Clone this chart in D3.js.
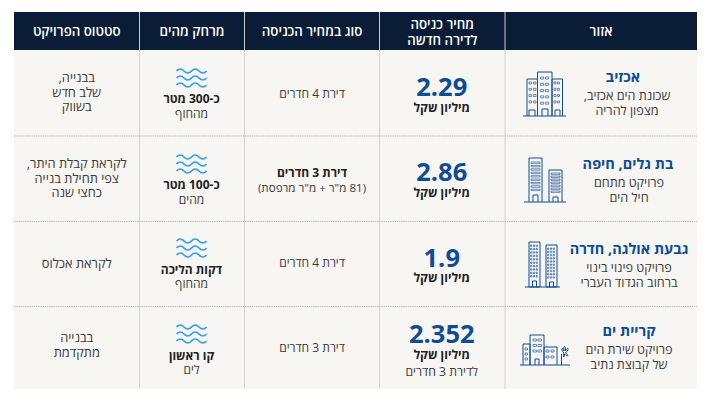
<!DOCTYPE html>
<html lang="he"><head><meta charset="utf-8">
<script src="https://cdn.jsdelivr.net/npm/d3@7"></script>
<style>html,body{margin:0;padding:0;background:#fff}svg{display:block}text{font-family:"Open Sans",sans-serif;direction:rtl;text-anchor:middle}</style>
</head><body><svg id="c" width="711" height="400"></svg>
<script>
const headers = [["אזור"],["מחיר כניסה","לדירה חדשה"],["סוג במחיר הכניסה"],["מרחק מהים"],["סטטוס הפרויקט"]];
const regions = ["אכזיב","בת גלים, חיפה","גבעת אולגה, חדרה","קריית ים"];
const regionNotes = [["שכונת הים אכזיב,","מצפון להריה"],["פרויקט מתחם","חיל הים"],["פרויקט פינוי בינוי","ברחוב הגדוד העברי"],["פרויקט שירת הים","של קבוצת נתיב"]];
const prices = ["2.29","2.86","1.9","2.352"];
const priceUnit = "מיליון שקל";
const priceNotes = ["","","","לדירת 3 חדרים"];
const aptTypes = [["דירת 4 חדרים",""],["דירת 3 חדרים","(81 מ\"ר +  מ\"ר מרפסת)"],["דירת 4 חדרים",""],["דירת 3 חדרים",""]];
const seaBold = ["כ-300 מטר","כ-100 מטר","דקות הליכה","קו ראשון"];
const seaNote = ["מהחוף","מהים","מהחוף","לים"];
const statuses = [["בבנייה,","שלב חדש","בשווק"],["לקראת קבלת היתר,","צפי תחילת בנייה","כחצי שנה"],["לקראת אכלוס"],["בבנייה","מתקדמת"]];
const rowEdges=[50,136,221.5,306.5,389], colEdges=[14,139.5,244.5,379.5,505,697];
const NAVY="#0a1c36",BLUE="#0f4c96",INK="#3a3a3a",BOLD="#222",BG="#f7f6f3",WAVE="#2f9ff0";
const svg=d3.select("#c");
const X=d3.scaleOrdinal().domain(d3.range(6)).range(colEdges);
const Y=d3.scaleOrdinal().domain(d3.range(5)).range(rowEdges);
const colMid=i=>(X(i)+X(i+1))/2;
svg.append("rect").attr("x",X(0)).attr("y",Y(0)).attr("width",X(5)-X(0)).attr("height",Y(4)-Y(0)).attr("fill",BG);
svg.append("rect").attr("x",X(0)).attr("y",12).attr("width",X(5)-X(0)).attr("height",Y(0)-12).attr("fill",NAVY);
d3.range(1,5).forEach(i=>{
 svg.append("line").attr("x1",X(i)).attr("x2",X(i)).attr("y1",12).attr("y2",Y(0)).attr("stroke","#c6ccd4").attr("stroke-width",1);
 svg.append("line").attr("x1",X(i)).attr("x2",X(i)).attr("y1",Y(0)).attr("y2",Y(4)).attr("stroke","#d3d3d0").attr("stroke-width",1);
});
d3.range(1,4).forEach(i=>svg.append("line").attr("x1",X(0)).attr("x2",X(5)).attr("y1",Y(i)).attr("y2",Y(i)).attr("stroke","#bdbdba").attr("stroke-width",1).attr("stroke-dasharray","1.5 0.7"));
function T(x,y,s,size,weight,fill){return svg.append("text").attr("x",x).attr("y",y).attr("font-size",size).attr("font-weight",weight).attr("fill",fill).text(s)}
const headCol=[4,3,2,1,0];
headers.forEach((h,i)=>{const c=headCol[i],x=colMid(c);
 if(h.length==1)T(x,36,h[0],13.3,600,"#fff"); else{T(x,29,h[0],13.3,600,"#fff");T(x,45,h[1],13.3,600,"#fff")}});
function lines(g,pts,w){g.append("path").attr("d",pts).attr("fill","none").attr("stroke",BLUE).attr("stroke-width",w||1)}
function win(g,x,y,cols,rows,dx,dy,w,h){let d="";for(let r=0;r<rows;r++)for(let c=0;c<cols;c++){d+=`M${x+c*dx} ${y+r*dy}h${w}v${h}h-${w}z`}lines(g,d,.6)}
function icon0(g){lines(g,"M-21 44H22M-17 44V7H-6.5V44M-6.5 44V0H8V44M8 44V7H18.5V44M-2 44V37H4V44M-15 44V38H-9V44M11 44V38H16V44");win(g,-15,10,2,4,4.5,6.3,2.5,2);win(g,-3.5,5,2,5,5,6.3,3.2,2);win(g,10,10,2,4,3.5,6.3,2,2)}
function icon1(g){lines(g,"M-20 44H22M-15 44V0H-2V44M5 44V12H18V44");win(g,-13,4,1,9,0,3.4,9,1.4);win(g,7,15,1,7,0,3,9,1.4);lines(g,"M-11 44V37H-6V44M9 44V39H14V44")}
function icon2(g){lines(g,"M-18 46H17M-14 1H-3V46H-14ZM3 4H14V46H3Z");win(g,-12.5,4,3,10,2.8,3.4,1.3,1.4);win(g,4.5,7,3,10,2.8,3.2,1.3,1.4);lines(g,"M-10.5 46V40H-6.5V46M6.5 46V41H10.5V46")}
function icon3(g){lines(g,"M-25 30H25M-22 30V9H-15V30M-15 30V0H-1V30M-1 30V12H12V30M-10 30V24H-6V30M16.5 30V19");win(g,-12,4,2,3,5,5.5,3.5,2);win(g,1,15,2,2,5,6,3,2);win(g,-20,13,1,3,0,5,2.5,2);lines(g,"M19 18C15 14 17 11 19 16C18 10 21 10 20.5 16C23 11 25 14 20.5 18C24 20 23 23 19.5 19C20 23 17 23 19 18Z")}
const iconAt=[[544,72],[544,158],[543,241],[545,335]], nameX=[623,628,629,629], noteX=[627,629,629,629];
const nameY=[82,169,254,336], note1Y=[100,187,272,354], note2Y=[115,202,287,369];
const priceY=[96,181,267,343], unitY=[112,197,282,359];
const typeY=[98,177,267,352], seaIconY=[68,154,238,324], seaBoldY=[103,189,274,360], seaNoteY=[118,204,288,374];
const statusY=[[82,97,111],[168,183,197],[268],[342,357]];
d3.range(4).forEach(i=>{
 T(nameX[i],nameY[i],regions[i],14.5,700,BLUE);
 T(noteX[i],note1Y[i],regionNotes[i][0],12.6,400,INK);
 T(noteX[i],note2Y[i],regionNotes[i][1],12.6,400,INK);
 const g=svg.append("g").attr("transform",`translate(${iconAt[i][0]},${iconAt[i][1]})`);
 [icon0,icon1,icon2,icon3][i](g);
 const px=colMid(3)-.5;
 T(px,priceY[i],prices[i],25.5,700,BLUE);
 T(px,unitY[i],priceUnit,12.2,700,BOLD);
 if(priceNotes[i])T(px,376,priceNotes[i],12.2,400,INK);
 const tx=colMid(2);
 if(aptTypes[i][1]){T(tx,typeY[i],aptTypes[i][0],12,700,BOLD);T(tx,192,aptTypes[i][1],11.6,400,INK)}
 else T(tx,typeY[i],aptTypes[i][0],12,400,INK);
 const sx=colMid(1)-.5;
 const wg=svg.append("g").attr("transform",`translate(${sx},${seaIconY[i]})`);
 [0,7,14].forEach(dy=>wg.append("path").attr("d",`M-15 ${dy+3}q3.7 -4 7.5 0t7.5 0t7.5 0t7.5 0`).attr("fill","none").attr("stroke",WAVE).attr("stroke-width",1.7));
 T(sx,seaBoldY[i],seaBold[i],12,700,BOLD);
 T(sx,seaNoteY[i],seaNote[i],12,400,INK);
 statuses[i].forEach((s,k)=>T(colMid(0),statusY[i][k],s,12.8,400,INK));
});
</script></body></html>
